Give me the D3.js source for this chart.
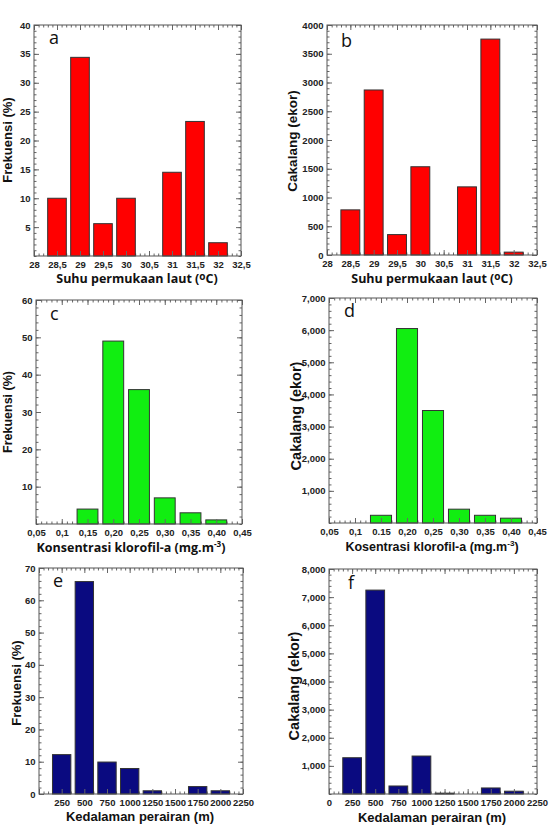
<!DOCTYPE html>
<html>
<head>
<meta charset="utf-8">
<script src="https://cdn.jsdelivr.net/npm/d3@7"></script>
<style>
html,body{margin:0;padding:0;background:#fff;}
svg{display:block;}
</style>
</head>
<body>
<svg id="chart" width="552" height="829"></svg>
<script>
// ---------------- DATA ----------------
const sstCategories = [28.5, 29, 29.5, 30, 30.5, 31, 31.5, 32];
const sstFrequency = [10, 34.4, 5.6, 10, 0, 14.5, 23.3, 2.3];
const sstCatch = [785, 2870, 355, 1535, 0, 1185, 3755, 50];
const sstTickValues = [28, 28.5, 29, 29.5, 30, 30.5, 31, 31.5, 32, 32.5];
const sstTickLabels = ["28", "28,5", "29", "29,5", "30", "30,5", "31", "31,5", "32", "32,5"];

const chlCategories = [0.15, 0.20, 0.25, 0.30, 0.35, 0.40];
const chlFrequency = [4.0, 49.0, 36.0, 7.0, 3.0, 1.1];
const chlCatch = [240, 6050, 3500, 430, 240, 150];
const chlTickValues = [0.05, 0.10, 0.15, 0.20, 0.25, 0.30, 0.35, 0.40, 0.45];
const chlTickLabelsC = ["0,05", "0,1", "0,15", "0,20", "0,25", "0,30", "0,35", "0,40", "0,45"];
const chlTickLabelsD = ["0,05", "0,1", "0.15", "0,20", "0,25", "0,30", "0,35", "0,40", "0,45"];

const depthCategories = [250, 500, 750, 1000, 1250, 1500, 1750, 2000];
const depthFrequency = [12.2, 65.8, 9.9, 7.9, 1.0, 0, 2.3, 1.0];
const depthCatch = [1290, 7250, 285, 1350, 30, 0, 215, 100];
const depthTickValues = [0, 250, 500, 750, 1000, 1250, 1500, 1750, 2000, 2250];
const depthTickLabelsE = ["", "250", "500", "750", "1000", "1250", "1500", "1750", "2000", "2250"];
const depthTickLabelsF = ["0", "250", "500", "750", "1000", "1250", "1500", "1750", "2000", "2250"];

const yTicksA = [5, 10, 15, 20, 25, 30, 35, 40];
const yTicksB = [0, 500, 1000, 1500, 2000, 2500, 3000, 3500, 4000];
const yTicksC = [10, 20, 30, 40, 50, 60];
const yTicksD = [1000, 2000, 3000, 4000, 5000, 6000, 7000];
const yTicksE = [0, 10, 20, 30, 40, 50, 60, 70];
const yTicksF = [1000, 2000, 3000, 4000, 5000, 6000, 7000, 8000];

// ---------------- DRAW ----------------
const svg = d3.select("#chart");
const TICK_FONT = "'Liberation Sans', Arial, sans-serif";

function stepRange(a, b, step) {
  const n = Math.round((b - a) / step);
  return d3.range(n + 1).map(i => a + i * step);
}

function panel(cfg) {
  const g = svg.append("g");
  const x = d3.scaleLinear().domain(cfg.xDomain).range([cfg.L, cfg.R]);
  const y = d3.scaleLinear().domain(cfg.yDomain).range([cfg.B, cfg.T]);
  const bw = (x(cfg.xDomain[0] + cfg.barStep) - x(cfg.xDomain[0])) * 0.81;

  const data = cfg.cats.map((c, i) => ({ c, v: cfg.vals[i] })).filter(d => d.v > 0);

  // minor ticks
  const xMinor = stepRange(cfg.xDomain[0], cfg.xDomain[1], cfg.xMinor);
  const yMinor = stepRange(cfg.yDomain[0], cfg.yDomain[1], cfg.yMinor);
  const tickColor = "#666";
  const axes = [
    [d3.axisBottom(x).tickValues(xMinor).tickSize(-2.5).tickFormat(""), `translate(0,${cfg.B})`],
    [d3.axisTop(x).tickValues(xMinor).tickSize(-2.5).tickFormat(""), `translate(0,${cfg.T})`],
    [d3.axisLeft(y).tickValues(yMinor).tickSize(-2.5).tickFormat(""), `translate(${cfg.L},0)`],
    [d3.axisRight(y).tickValues(yMinor).tickSize(-2.5).tickFormat(""), `translate(${cfg.R},0)`],
    [d3.axisTop(x).tickValues(cfg.xTicks).tickSize(-5).tickFormat(""), `translate(0,${cfg.T})`],
    [d3.axisRight(y).tickValues(cfg.yTicks).tickSize(-5).tickFormat(""), `translate(${cfg.R},0)`]
  ];
  axes.forEach(([ax, tr]) => {
    const a = g.append("g").attr("transform", tr).call(ax);
    a.select(".domain").remove();
    a.selectAll("line").attr("stroke", tickColor);
  });

  // bars
  g.append("g").selectAll("rect").data(data).join("rect")
    .attr("x", d => x(d.c) - bw / 2)
    .attr("y", d => y(d.v))
    .attr("width", bw)
    .attr("height", d => y(cfg.yDomain[0]) - y(d.v))
    .attr("fill", cfg.color)
    .attr("stroke", "#333")
    .attr("stroke-width", 1);

  // major axes with labels
  const xb = g.append("g").attr("transform", `translate(0,${cfg.B})`)
    .call(d3.axisBottom(x).tickValues(cfg.xTicks).tickSize(-5).tickPadding(5.5)
      .tickFormat((d, i) => cfg.xLabels[i]));
  const yl = g.append("g").attr("transform", `translate(${cfg.L},0)`)
    .call(d3.axisLeft(y).tickValues(cfg.yTicks).tickSize(-5).tickPadding(3.5)
      .tickFormat(cfg.yFormat));
  [xb, yl].forEach(a => {
    a.select(".domain").remove();
    a.selectAll("line").attr("stroke", tickColor);
    a.selectAll("text").attr("font-family", TICK_FONT).attr("font-weight", "bold")
      .attr("font-size", "9.5px").attr("fill", "#222");
  });

  // frame
  g.append("rect").attr("x", cfg.L).attr("y", cfg.T)
    .attr("width", cfg.R - cfg.L).attr("height", cfg.B - cfg.T)
    .attr("fill", "none").attr("stroke", "#555").attr("stroke-width", 1);

  // letter
  g.append("text").attr("x", cfg.letterX).attr("y", cfg.letterY)
    .attr("font-family", "'Open Sans', 'DejaVu Sans', sans-serif")
    .attr("font-size", "18px").attr("fill", "#111").text(cfg.letter);

  // y title
  g.append("text")
    .attr("transform", `translate(${cfg.yTitleX},${cfg.yTitleY}) rotate(-90)`)
    .attr("text-anchor", "middle")
    .attr("font-family", TICK_FONT).attr("font-weight", "bold")
    .attr("font-size", cfg.yTitleSize + "px").attr("fill", "#111")
    .text(cfg.yTitle);

  // x title
  const xt = g.append("text")
    .attr("x", cfg.xTitleX).attr("y", cfg.xTitleY)
    .attr("text-anchor", "middle")
    .attr("font-family", cfg.xTitleFont).attr("font-weight", "bold")
    .attr("font-size", cfg.xTitleSize + "px").attr("fill", "#111");
  cfg.xTitle(xt);
}

const fmtComma = d => d3.format(",")(d);
const fmtPlain = d => String(d);

const sstTitle = t => {
  t.append("tspan").text("Suhu permukaan laut (");
  t.append("tspan").attr("font-size", "0.8em").attr("dy", -3).text("o");
  t.append("tspan").attr("dy", 3).text("C)");
};
const chlTitle = word => t => {
  t.append("tspan").text(word + " klorofil-a (mg.m");
  t.append("tspan").attr("font-size", "0.65em").attr("dy", -5).text("-3");
  t.append("tspan").attr("dy", 5).text(")");
};
const depthTitle = t => t.text("Kedalaman perairan (m)");

const OPEN = "'Open Sans', 'DejaVu Sans', sans-serif";
const ARIAL = "'Liberation Sans', Arial, sans-serif";

panel({
  L: 34, R: 241, T: 25, B: 256, xDomain: [28, 32.5], yDomain: [0, 40], barStep: 0.5,
  cats: sstCategories, vals: sstFrequency, color: "#ff0000",
  xTicks: sstTickValues, xLabels: sstTickLabels, yTicks: yTicksA, yFormat: fmtPlain,
  xMinor: 0.1, yMinor: 1,
  letter: "a", letterX: 49, letterY: 44,
  yTitle: "Frekuensi (%)", yTitleX: 12, yTitleY: 140, yTitleSize: 13,
  xTitle: sstTitle, xTitleX: 137, xTitleY: 283, xTitleSize: 12.5, xTitleFont: OPEN
});
panel({
  L: 327, R: 537, T: 25, B: 255, xDomain: [28, 32.5], yDomain: [0, 4000], barStep: 0.5,
  cats: sstCategories, vals: sstCatch, color: "#ff0000",
  xTicks: sstTickValues, xLabels: sstTickLabels, yTicks: yTicksB, yFormat: fmtPlain,
  xMinor: 0.1, yMinor: 100,
  letter: "b", letterX: 341, letterY: 47,
  yTitle: "Cakalang (ekor)", yTitleX: 297, yTitleY: 141, yTitleSize: 13.5,
  xTitle: sstTitle, xTitleX: 432, xTitleY: 283, xTitleSize: 12.5, xTitleFont: OPEN
});
panel({
  L: 36, R: 242, T: 300, B: 524, xDomain: [0.05, 0.45], yDomain: [0, 60], barStep: 0.05,
  cats: chlCategories, vals: chlFrequency, color: "#11ee11",
  xTicks: chlTickValues, xLabels: chlTickLabelsC, yTicks: yTicksC, yFormat: fmtPlain,
  xMinor: 0.01, yMinor: 2,
  letter: "c", letterX: 50, letterY: 320,
  yTitle: "Frekuensi (%)", yTitleX: 12, yTitleY: 412, yTitleSize: 12.5,
  xTitle: chlTitle("Konsentrasi"), xTitleX: 131, xTitleY: 552, xTitleSize: 12.5, xTitleFont: OPEN
});
panel({
  L: 329, R: 537, T: 298, B: 523, xDomain: [0.05, 0.45], yDomain: [0, 7000], barStep: 0.05,
  cats: chlCategories, vals: chlCatch, color: "#11ee11",
  xTicks: chlTickValues, xLabels: chlTickLabelsD, yTicks: yTicksD, yFormat: fmtComma,
  xMinor: 0.01, yMinor: 200,
  letter: "d", letterX: 344, letterY: 317,
  yTitle: "Cakalang (ekor)", yTitleX: 301, yTitleY: 416, yTitleSize: 14.5,
  xTitle: chlTitle("Kosentrasi"), xTitleX: 432, xTitleY: 551, xTitleSize: 12.5, xTitleFont: ARIAL
});
panel({
  L: 39, R: 243, T: 568, B: 794, xDomain: [0, 2250], yDomain: [0, 70], barStep: 250,
  cats: depthCategories, vals: depthFrequency, color: "#0a0a80",
  xTicks: depthTickValues, xLabels: depthTickLabelsE, yTicks: yTicksE, yFormat: fmtPlain,
  xMinor: 50, yMinor: 2,
  letter: "e", letterX: 53, letterY: 587,
  yTitle: "Frekuensi (%)", yTitleX: 21, yTitleY: 683, yTitleSize: 13,
  xTitle: depthTitle, xTitleX: 140, xTitleY: 821, xTitleSize: 13, xTitleFont: ARIAL
});
panel({
  L: 329, R: 537, T: 569, B: 794, xDomain: [0, 2250], yDomain: [0, 8000], barStep: 250,
  cats: depthCategories, vals: depthCatch, color: "#0a0a80",
  xTicks: depthTickValues, xLabels: depthTickLabelsF, yTicks: yTicksF, yFormat: fmtComma,
  xMinor: 50, yMinor: 200,
  letter: "f", letterX: 348, letterY: 589,
  yTitle: "Cakalang (ekor)", yTitleX: 299, yTitleY: 686, yTitleSize: 14.5,
  xTitle: depthTitle, xTitleX: 432, xTitleY: 822, xTitleSize: 13, xTitleFont: ARIAL
});
</script>
</body>
</html>
